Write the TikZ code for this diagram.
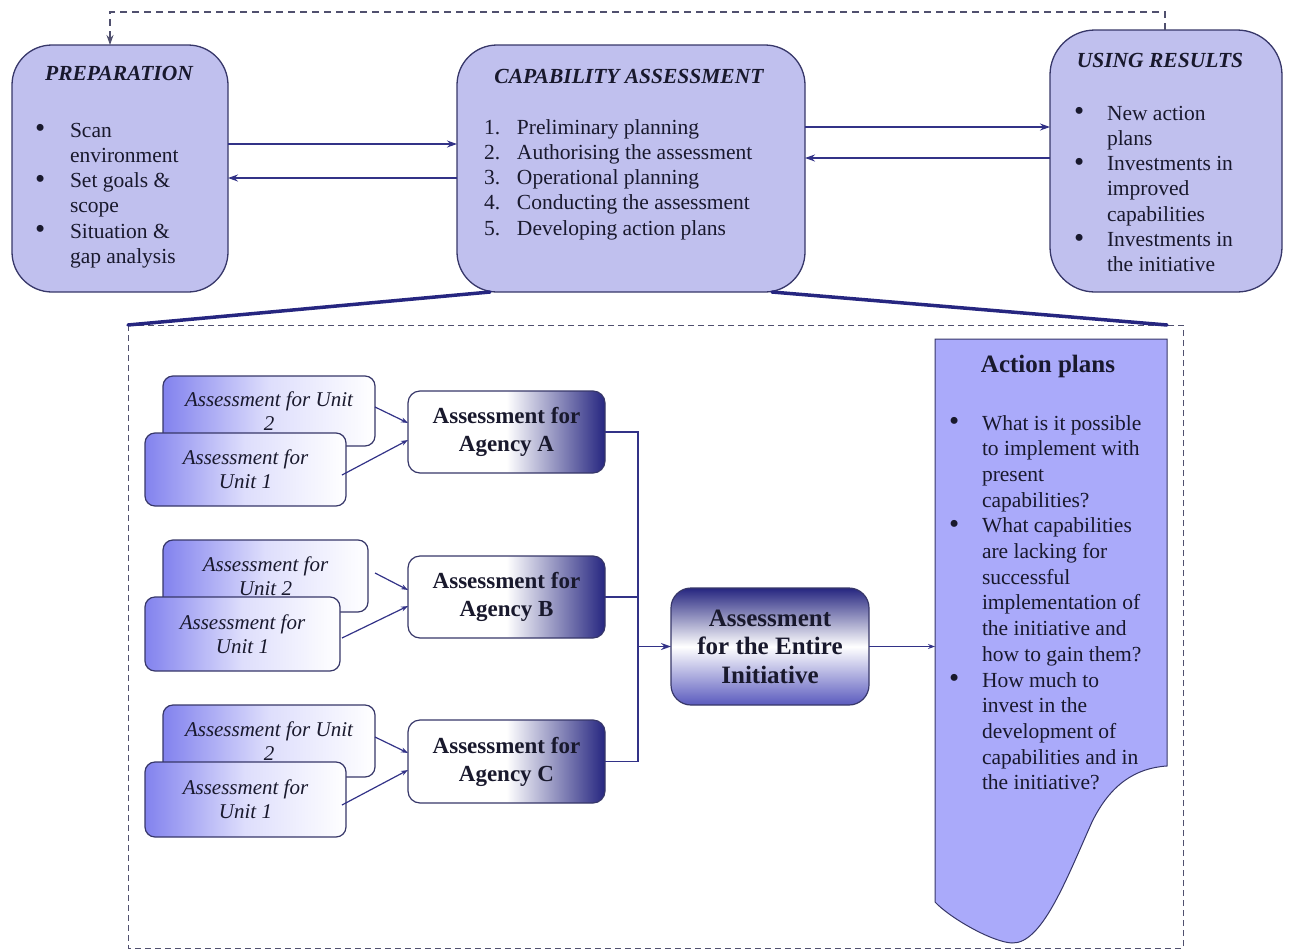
\documentclass[tikz,border=0pt]{standalone}
\usepackage{fontspec}
\setmainfont{Liberation Serif}
\usetikzlibrary{arrows.meta}

\definecolor{boxfill}{RGB}{192,192,238}
\definecolor{boxline}{RGB}{55,55,105}
\definecolor{navy}{RGB}{50,50,135}
\definecolor{deepnavy}{RGB}{38,38,128}
\definecolor{midnavy}{RGB}{90,90,190}
\definecolor{unitblue}{RGB}{130,130,238}
\definecolor{unitmid}{RGB}{222,222,252}
\definecolor{planfill}{RGB}{170,170,250}
\definecolor{ink}{RGB}{25,25,45}
\definecolor{dashgrey}{RGB}{80,80,110}

\newcommand\dgBody{\fontsize{21.5}{25.3}\selectfont}
\newcommand\dgPlan{\fontsize{21.5}{25.7}\selectfont}
\newcommand\dgTitle{\fontsize{21.5}{25}\selectfont\bfseries\itshape}
\newcommand\dgUnit{\fontsize{21}{24}\selectfont\itshape}
\newcommand\dgAgency{\fontsize{23}{28}\selectfont\bfseries}
\newcommand\dgEntire{\fontsize{25}{28.5}\selectfont\bfseries}
\newcommand\dgPlanTitle{\fontsize{25}{28}\selectfont\bfseries}
\newcommand\dgDot{\raisebox{-0.5pt}{\scalebox{1.35}{\textbullet}}}

\tikzset{
  txt/.style={inner sep=0pt, outer sep=0pt, text=ink},
  topbox/.style={draw=boxline, fill=boxfill, line width=1.3pt, inner sep=0pt, outer sep=0pt},
  unitbox/.style={draw=boxline, line width=1.2pt, rounded corners=10pt, inner sep=0pt, outer sep=0pt,
    left color=unitblue, right color=white, middle color=unitmid, align=center, font=\dgUnit, text=ink},
  agencybox/.style={draw=boxline, line width=1.2pt, rounded corners=12pt, inner sep=0pt, outer sep=0pt,
    left color=white, right color=deepnavy, middle color=white, align=center, font=\dgAgency, text=ink,
    minimum width=197pt},
  entirebox/.style={draw=boxline, line width=1.2pt, rounded corners=20pt, inner sep=0pt, outer sep=0pt,
    top color=deepnavy, bottom color=midnavy, middle color=white, align=center, font=\dgEntire, text=ink},
  arr/.style={draw=navy, line width=1.3pt, -{Stealth[length=10pt,width=7pt]}},
  arrs/.style={draw=navy, line width=1.2pt, -{Stealth[length=7pt,width=5pt]}},
  conn/.style={draw=navy, line width=1.2pt},
  feedback/.style={draw=dashgrey, line width=1.1pt, dash pattern=on 7pt off 5pt,
    -{Stealth[length=10pt,width=7pt]}},
  framebox/.style={draw=dashgrey, line width=1pt, dash pattern=on 6pt off 4pt},
  zoomline/.style={draw=deepnavy, line width=3.5pt, line cap=round},
}

\begin{document}
\begin{tikzpicture}[x=1pt, y=-1pt]
\useasboundingbox (0,0) rectangle (1294,951);

% dashed frame around the detailed assessment
\coordinate (frTL) at (128,325);
\coordinate (frBR) at (1183,948);
\coordinate (zoomR) at (1167,325);
\draw[framebox] (frTL) rectangle (frBR);

% ---------- top row ----------
\node[topbox, minimum width=216pt, minimum height=247pt, rounded corners=40pt] (prep) at (120,168.5) {};
\node[topbox, minimum width=348pt, minimum height=247pt, rounded corners=40pt] (cap) at (631,168.5) {};
\node[topbox, minimum width=232pt, minimum height=262pt, rounded corners=45pt] (use) at (1166,161) {};

\node[txt, font=\dgTitle, anchor=base] (prepT) at (119,80) {PREPARATION};
\node[txt, font=\dgBody, anchor=base west] (prepL) at (35,137) {%
  \begin{tabular}[t]{@{}p{35pt}@{}l@{}}
  \dgDot & Scan\\
         & environment\\
  \dgDot & Set goals \&\\
         & scope\\
  \dgDot & Situation \&\\
         & gap analysis
  \end{tabular}};

\node[txt, font=\dgTitle, anchor=base] (capT) at (629,83) {CAPABILITY ASSESSMENT};
\node[txt, font=\dgBody, anchor=base west] (capL) at (484,134) {%
  \begin{tabular}[t]{@{}p{33pt}@{}l@{}}
  1. & Preliminary planning\\
  2. & Authorising the assessment\\
  3. & Operational planning\\
  4. & Conducting the assessment\\
  5. & Developing action plans
  \end{tabular}};

\node[txt, font=\dgTitle, anchor=base] (useT) at (1160,67) {USING RESULTS};
\node[txt, font=\dgBody, anchor=base west] (useL) at (1074,120) {%
  \begin{tabular}[t]{@{}p{33pt}@{}l@{}}
  \dgDot & New action\\
         & plans\\
  \dgDot & Investments in\\
         & improved\\
         & capabilities\\
  \dgDot & Investments in\\
         & the initiative
  \end{tabular}};

% arrows between the three phases
\draw[arr] ([yshift=24.5pt]prep.east) -- ([yshift=24.5pt]prep.east -| cap.west);
\draw[arr] ([yshift=-9.5pt]cap.west) -- ([yshift=-9.5pt]cap.west -| prep.east);
\draw[arr] ([yshift=41.5pt]cap.east) -- ([yshift=41.5pt]cap.east -| use.west);
\draw[arr] ([yshift=10.5pt]cap.east -| use.west) -- ([yshift=10.5pt]cap.east);

% feedback loop from results back to preparation
\coordinate (fbc) at (110,12);
\draw[feedback] ([xshift=-1pt]use.north) |- (fbc) -- (fbc |- prep.north);

% lines opening the capability assessment into the frame
\draw[zoomline] ([xshift=33pt]cap.south west) -- (frTL);
\draw[zoomline] ([xshift=-33pt]cap.south east) -- (zoomR);

% ---------- unit and agency assessments ----------
\node[unitbox, minimum width=212pt, minimum height=70pt] (u2A) at (269,411) {Assessment for Unit\\2};
\node[unitbox, minimum width=201pt, minimum height=73pt] (u1A) at (245.5,469.5) {Assessment for\\Unit 1};
\node[agencybox, minimum height=82pt] (agA) at (506.5,432) {Assessment for\\Agency A};

\node[unitbox, minimum width=205pt, minimum height=72pt] (u2B) at (265.5,576) {Assessment for\\Unit 2};
\node[unitbox, minimum width=195pt, minimum height=74pt] (u1B) at (242.5,634) {Assessment for\\Unit 1};
\node[agencybox, minimum height=82pt] (agB) at (506.5,597) {Assessment for\\Agency B};

\node[unitbox, minimum width=212pt, minimum height=72pt] (u2C) at (269,741) {Assessment for Unit\\2};
\node[unitbox, minimum width=201pt, minimum height=75pt] (u1C) at (245.5,799.5) {Assessment for\\Unit 1};
\node[agencybox, minimum height=83pt] (agC) at (506.5,761.5) {Assessment for\\Agency C};

\draw[arrs] ([yshift=4pt]u2A.east) -- ([yshift=9pt]agA.west);
\draw[arrs] ([xshift=-4pt,yshift=-5.5pt]u1A.east) -- ([yshift=-8pt]agA.west);
\draw[arrs] ([xshift=7pt,yshift=3pt]u2B.east) -- ([yshift=7pt]agB.west);
\draw[arrs] ([xshift=2pt,yshift=-4pt]u1B.east) -- ([yshift=-9pt]agB.west);
\draw[arrs] ([yshift=4pt]u2C.east) -- ([yshift=8.5pt]agC.west);
\draw[arrs] ([xshift=-4pt,yshift=-5.5pt]u1C.east) -- ([yshift=-8.5pt]agC.west);

% ---------- whole initiative ----------
\node[entirebox, minimum width=198pt, minimum height=117pt] (ent) at (770,646.5) {Assessment\\for the Entire\\Initiative};

\coordinate (busx) at (638,0);
\draw[conn] (agA.east) -- (agA.east -| busx) |- (agC.east);
\draw[conn] (agB.east) -- (agB.east -| busx);
\draw[arr] (busx |- ent.west) -- (ent.west);

% ---------- action plans (document shape) ----------
\draw[draw=boxline, fill=planfill, line width=1pt]
  (935,339) -- (1167,339) -- (1167,766)
  .. controls (1135,768) and (1110,785) .. (1092,822)
  .. controls (1066,880) and (1042,944) .. (1012,943)
  .. controls (992,942) and (950,918) .. (935,902) -- cycle;
\coordinate (apW) at (935,646);
\draw[arrs] (ent.east) -- (ent.east -| apW);

\node[txt, font=\dgPlanTitle, anchor=base] (apT) at (1048,372) {Action plans};
\node[txt, font=\dgPlan, anchor=base west] (apL) at (949,430) {%
  \begin{tabular}[t]{@{}p{33pt}@{}l@{}}
  \dgDot & What is it possible\\
         & to implement with\\
         & present\\
         & capabilities?\\
  \dgDot & What capabilities\\
         & are lacking for\\
         & successful\\
         & implementation of\\
         & the initiative and\\
         & how to gain them?\\
  \dgDot & How much to\\
         & invest in the\\
         & development of\\
         & capabilities and in\\
         & the initiative?
  \end{tabular}};

\end{tikzpicture}
\end{document}
